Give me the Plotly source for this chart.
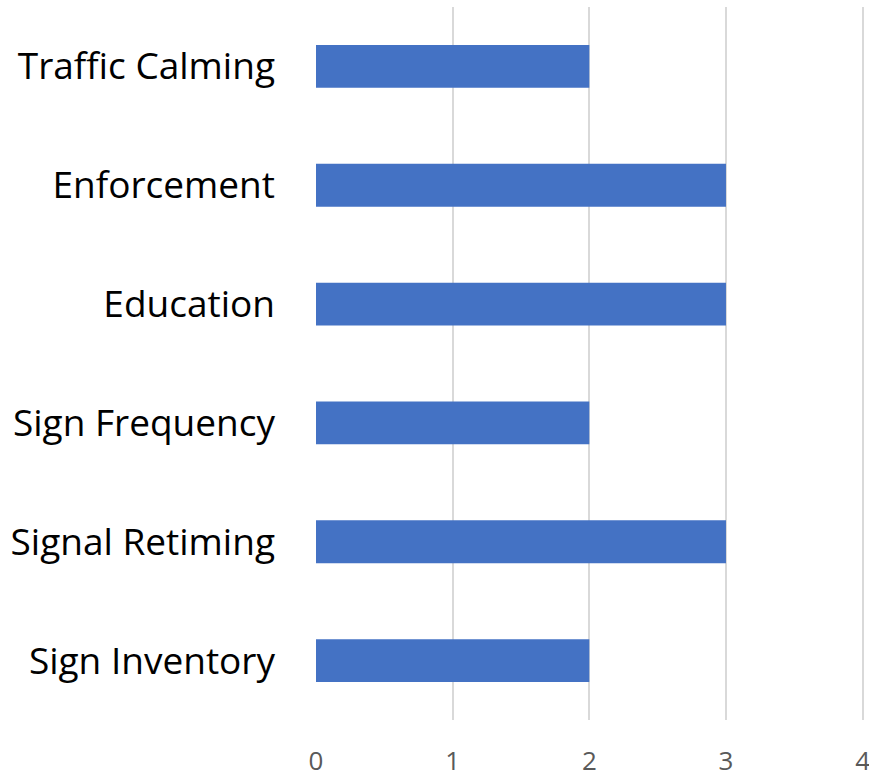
import plotly.graph_objects as go

# Survey responses by countermeasure (bottom to top on the axis)
categories = ["Sign Inventory", "Signal Retiming", "Sign Frequency",
              "Education", "Enforcement", "Traffic Calming"]
counts = [2, 3, 2, 3, 3, 2]
x_ticks = [0, 1, 2, 3, 4]

fig = go.Figure(
    go.Bar(
        x=counts,
        y=categories,
        orientation="h",
        marker=dict(color="#4472C4", line=dict(width=0)),
        hoverinfo="x+y",
    )
)

fig.update_layout(
    width=869,
    height=773,
    margin=dict(l=316, r=5, t=7, b=53),
    paper_bgcolor="white",
    plot_bgcolor="white",
    bargap=0.64,
    showlegend=False,
    font=dict(family="Open Sans, sans-serif"),
)

fig.update_xaxes(
    range=[0, 4.01],
    tickvals=x_ticks,
    showgrid=True,
    gridcolor="#D9D9D9",
    gridwidth=1.5,
    zeroline=False,
    showline=False,
    tickfont=dict(size=26, color="#595959"),
    ticklabelstandoff=23,
    ticklabeloverflow="allow",
    automargin=False,
)

fig.update_yaxes(
    categoryorder="array",
    categoryarray=categories,
    showgrid=False,
    zeroline=False,
    showline=False,
    tickfont=dict(size=37, color="#000000"),
    ticklabelstandoff=40,
    automargin=False,
)

fig.write_html("out.html")
